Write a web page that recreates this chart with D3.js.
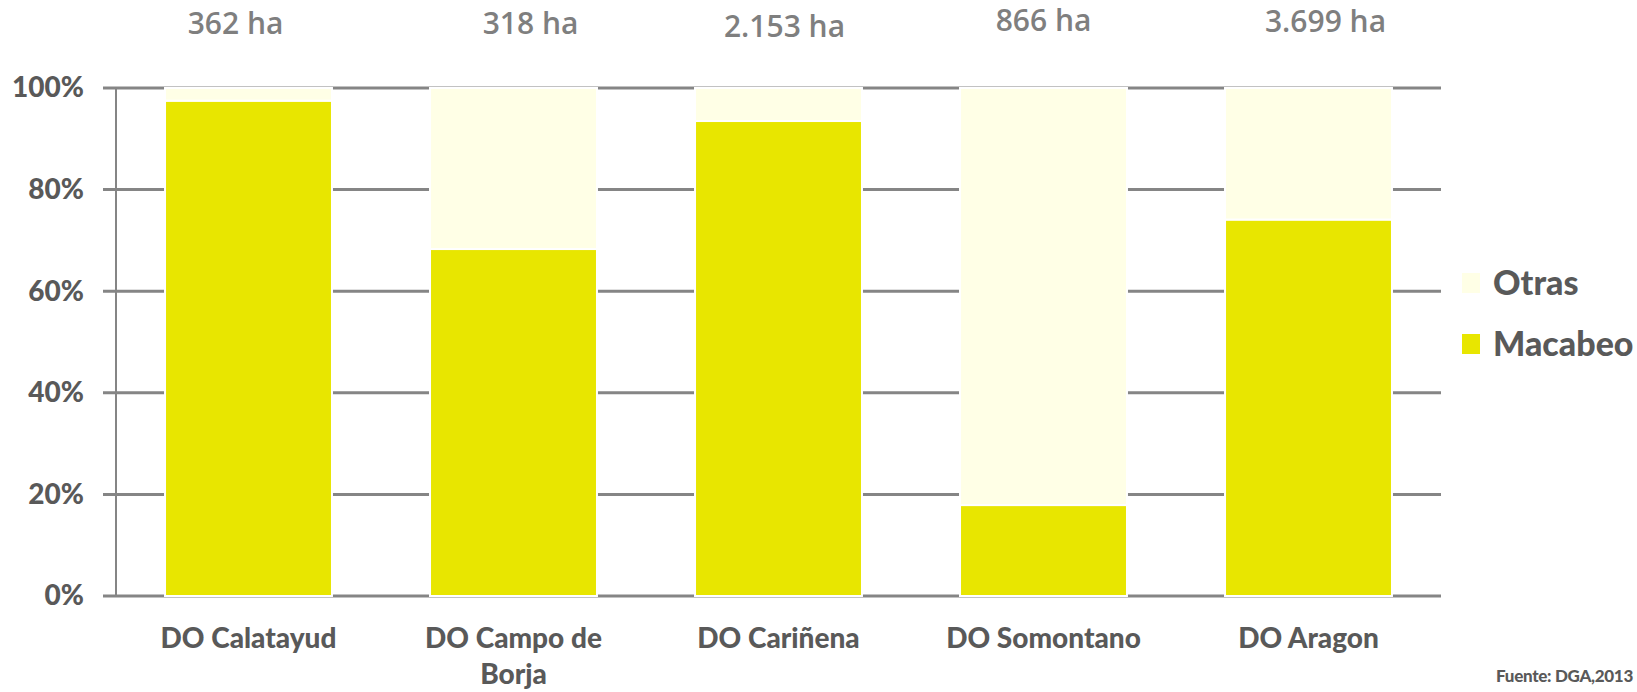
<!DOCTYPE html>
<html>
<head>
<meta charset="utf-8">
<script src="https://cdn.jsdelivr.net/npm/d3@7"></script>
<style>
body{margin:0;background:#fff;}
svg{display:block;}
.tick text{font-family:Lato,"Open Sans",sans-serif;font-weight:900;fill:#595959;}
.total{font-family:"Open Sans",Lato,sans-serif;font-weight:600;fill:#7f7f7f;font-size:30px;}
.legend text{font-family:Lato,"Open Sans",sans-serif;font-weight:900;fill:#595959;font-size:34px;}
.source{font-family:Lato,"Open Sans",sans-serif;font-weight:900;fill:#595959;font-size:17px;letter-spacing:-0.3px;}
</style>
</head>
<body>
<svg></svg>
<script>
var categories = ["DO Calatayud","DO Campo de Borja","DO Cariñena","DO Somontano","DO Aragon"];
var labelLines = [["DO Calatayud"],["DO Campo de","Borja"],["DO Cariñena"],["DO Somontano"],["DO Aragon"]];
var macabeo = [97.5,68.3,93.5,17.9,74.1];
var otras = [2.5,31.7,6.5,82.1,25.9];
var totals = ["362 ha","318 ha","2.153 ha","866 ha","3.699 ha"];
var yTicks = [0,20,40,60,80,100];

var screen = {width:1637,height:692}
var margins = {left:116,right:196,top:88,bottom:96}
var graph =
    {
        width:screen.width-margins.left-margins.right,
        height:screen.height-margins.top-margins.bottom
    }

var svg = d3.select("svg")
    .attr("width",screen.width)
    .attr("height",screen.height)

var xScale = d3.scaleBand()
    .domain(categories)
    .range([0,graph.width])
    .paddingInner(0.37)
    .paddingOuter(0.185)
var yScale = d3.scaleLinear()
    .domain([0,100])
    .range([graph.height,0])

var target = svg.append("g")
    .attr("transform","translate("+margins.left+","+margins.top+")")

// gridlines behind bars
target.append("g")
    .selectAll("line")
    .data(yTicks)
    .enter()
    .append("line")
    .attr("x1",-13)
    .attr("x2",graph.width)
    .attr("y1",function(d){return yScale(d);})
    .attr("y2",function(d){return yScale(d);})
    .attr("stroke","#858585")
    .attr("stroke-width",3)

target.append("line")
    .attr("x1",0).attr("x2",0)
    .attr("y1",yScale(100)).attr("y2",yScale(0))
    .attr("stroke","#858585")
    .attr("stroke-width",2)

var yAxis = d3.axisLeft(yScale)
    .tickValues(yTicks)
    .tickSize(0)
    .tickPadding(32)
    .tickFormat(function(d){return d+"%";})
var yG = target.append("g").call(yAxis)
yG.select(".domain").remove()
yG.selectAll("text").style("font-size","28px")

var stack = categories.map(function(c,i){
    return {cat:c,mac:macabeo[i],otr:otras[i]};
})

var bars = target.append("g")
    .selectAll("g")
    .data(stack)
    .enter()
    .append("g")

bars.append("rect")
    .attr("x",function(d){return xScale(d.cat);})
    .attr("width",xScale.bandwidth())
    .attr("y",function(d){return yScale(d.mac);})
    .attr("height",function(d){return yScale(0)-yScale(d.mac);})
    .attr("fill","#e8e600")
    .attr("stroke","#fff")
    .attr("stroke-width",2)

bars.append("rect")
    .attr("x",function(d){return xScale(d.cat);})
    .attr("width",xScale.bandwidth())
    .attr("y",function(d){return yScale(d.mac+d.otr);})
    .attr("height",function(d){return yScale(d.mac)-yScale(d.mac+d.otr);})
    .attr("fill","#ffffe6")
    .attr("stroke","#fff")
    .attr("stroke-width",2)

// category labels
var xl = target.append("g")
    .selectAll("text")
    .data(labelLines)
    .enter()
    .append("text")
    .attr("text-anchor","middle")
    .attr("x",function(d,i){return xScale(categories[i])+xScale.bandwidth()/2;})
    .attr("y",graph.height+52)
    .style("font-family","Lato, 'Open Sans', sans-serif")
    .style("font-weight","900")
    .style("fill","#595959")
    .style("font-size","28px")
xl.selectAll("tspan")
    .data(function(d){return d;})
    .enter()
    .append("tspan")
    .attr("x",function(){return d3.select(this.parentNode).attr("x");})
    .attr("dy",function(d,i){return i==0?0:36;})
    .text(function(d){return d;})

// hectare totals above
var totalOffsets = [-13,17,6,0,17];
var totalY = [34,34,37,31,32];
svg.append("g")
    .selectAll("text")
    .data(totals)
    .enter()
    .append("text")
    .attr("class","total")
    .attr("text-anchor","middle")
    .attr("x",function(d,i){return margins.left+xScale(categories[i])+xScale.bandwidth()/2+totalOffsets[i];})
    .attr("y",function(d,i){return totalY[i];})
    .text(function(d){return d;})

// legend
var legendItems = [{name:"Otras",color:"#ffffe6"},{name:"Macabeo",color:"#e8e600"}];
var legend = svg.append("g")
    .classed("legend",true)
    .attr("transform","translate(1462,273)")
var entries = legend.selectAll("g")
    .data(legendItems)
    .enter()
    .append("g")
    .attr("transform",function(d,i){return "translate(0,"+(i*61)+")";})
entries.append("rect")
    .attr("width",18)
    .attr("height",20)
    .attr("fill",function(d){return d.color;})
entries.append("text")
    .attr("x",31)
    .attr("y",22)
    .text(function(d){return d.name;})

svg.append("text")
    .attr("class","source")
    .attr("text-anchor","end")
    .attr("x",1633)
    .attr("y",682)
    .text("Fuente: DGA,2013")
</script>
</body>
</html>
